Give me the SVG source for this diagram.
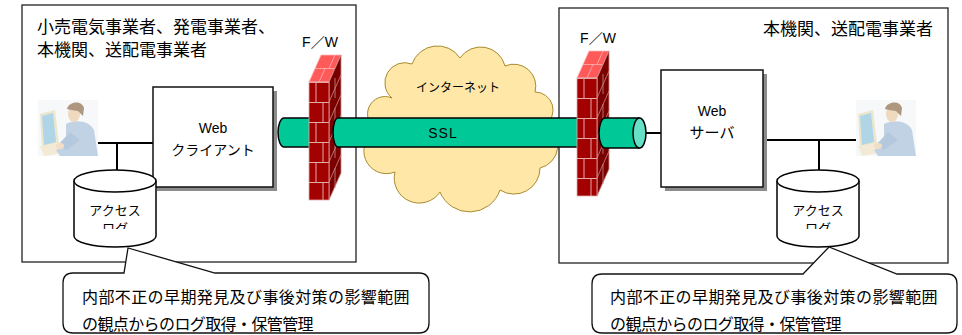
<svg xmlns="http://www.w3.org/2000/svg" xmlns:xlink="http://www.w3.org/1999/xlink" width="962" height="335" viewBox="0 0 962 335">
  <style>
    .jp { font-family: "Liberation Sans", "Noto Sans CJK JP", sans-serif; fill: #000; }
    .site { fill: #fff; stroke: #222; stroke-width: 1.3; }
    .shadow { fill: #8c8c8c; }
    .box { fill: #fff; stroke: #111; stroke-width: 1.5; }
    .wire { stroke: #000; stroke-width: 2; fill: none; }
    .db { fill: #fff; stroke: #000; stroke-width: 1.5; }
    .tube { fill: #00c896; stroke: #000; stroke-width: 1.5; }
    .cap { fill: #66e0c6; stroke: #000; stroke-width: 1.5; }
    .note { fill: #fff; stroke: #111; stroke-width: 1.3; }
    .cloud { fill: #ffe7a8; stroke: #a88a30; stroke-width: 1; }
  </style>
  <defs>
    <!-- brick courses for the firewall front face -->
    <pattern id="brickFront" patternUnits="userSpaceOnUse" x="0" y="27" width="20" height="40">
      <rect width="20" height="40" fill="#a30000"/>
      <path d="M0 0.5H20M0 20.5H20M7 0V20M14 20V40" stroke="#e2aaaa" stroke-width="1" fill="none"/>
    </pattern>
    <clipPath id="dbTextL"><rect x="74" y="190" width="82" height="39"/></clipPath>
    <clipPath id="dbTextR"><rect x="777" y="190" width="82" height="39"/></clipPath>
    <!-- firewall: front face, lit top and shaded side -->
    <g id="wall">
      <polygon points="0,27 20,27 32,0 12,0" fill="#ff5a5a" stroke="#ffb4b4" stroke-width="0.8"/>
      <path d="M6,13.5H26M10,27L16,13.5M20,13.5L26,0" stroke="#ffb4b4" stroke-width="0.8" fill="none"/>
      <polygon points="20,27 32,0 32,118 20,145" fill="#7a0000" stroke="#c88a8a" stroke-width="0.8"/>
      <path d="M20,47L32,20M20,67L32,40M20,87L32,60M20,107L32,80M20,127L32,100M26,23V43M26,53V73M26,83V103M26,113V133" stroke="#c88a8a" stroke-width="0.8" fill="none"/>
      <rect x="0" y="27" width="20" height="118" fill="url(#brickFront)" stroke="#e2aaaa" stroke-width="0.8"/>
    </g>
    <!-- user seated at a terminal, in soft pastel tones -->
    <g id="user" opacity="0.8">
      <rect x="0" y="0" width="60" height="56" fill="#f4f7fa"/>
      <polygon points="2,14 17,10 21,44 4,48" fill="#e8e0c0"/>
      <polygon points="4,16 15,13 18,42 6,45" fill="#9ccbe2"/>
      <polygon points="2,46 26,42 30,52 6,56" fill="#efe6ca"/>
      <path d="M28,24 C38,19 52,21 56,30 L60,56 L22,56 L18,50 L28,46 Z" fill="#b2c8de"/>
      <path d="M32,32 L20,45 L28,50 L42,40 Z" fill="#a2bcd6"/>
      <ellipse cx="22" cy="46" rx="4" ry="3" fill="#efd6b8"/>
      <ellipse cx="36" cy="14" rx="6" ry="8" fill="#ecd0b0"/>
      <path d="M29,9 C31,1 44,0 46,8 L45,16 L40,11 L33,10 Z" fill="#9a7c60"/>
    </g>
  </defs>

  <!-- sites -->
  <g id="site-left">
    <rect class="site" x="22" y="5" width="334" height="257"/>
    <text class="jp" x="37" y="33" font-size="17">小売電気事業者、発電事業者、</text>
    <text class="jp" x="37" y="56" font-size="17">本機関、送配電事業者</text>
  </g>
  <g id="site-right">
    <rect class="site" x="559" y="8" width="389" height="255"/>
    <text class="jp" x="933" y="35" font-size="17" text-anchor="end">本機関、送配電事業者</text>
  </g>

  <!-- connectors -->
  <g id="connectors">
    <path class="wire" d="M98,143H153M117,143V170"/>
    <path class="wire" d="M763,140H856M819,140V171"/>
    <path class="wire" d="M646,133H661"/>
  </g>

  <g id="web-client">
    <rect class="shadow" x="157" y="91" width="120" height="100"/>
    <rect class="box" x="153" y="87" width="120" height="100"/>
    <text class="jp" x="213" y="133" font-size="14" text-anchor="middle">Web</text>
    <text class="jp" x="213" y="155" font-size="14" text-anchor="middle">クライアント</text>
  </g>

  <g id="web-server">
    <rect class="shadow" x="665" y="74" width="102" height="117"/>
    <rect class="box" x="661" y="70" width="102" height="117"/>
    <text class="jp" x="712" y="116" font-size="14" text-anchor="middle">Web</text>
    <text class="jp" x="712" y="138" font-size="15" text-anchor="middle">サーバ</text>
  </g>

  <g id="user-left"><use xlink:href="#user" href="#user" x="38" y="100"/></g>
  <g id="user-right"><use xlink:href="#user" href="#user" x="856" y="100"/></g>

  <g id="log-left">
    <path class="db" d="M74,181V236A41,11 0 0 0 156,236V181"/>
    <ellipse class="db" cx="115" cy="181" rx="41" ry="11"/>
    <g clip-path="url(#dbTextL)">
      <text class="jp" x="115" y="215" font-size="13" text-anchor="middle">アクセス</text>
      <text class="jp" x="115" y="233" font-size="13" text-anchor="middle">ログ</text>
    </g>
  </g>
  <g id="log-right">
    <path class="db" d="M777,181V236A41,11 0 0 0 859,236V181"/>
    <ellipse class="db" cx="818" cy="181" rx="41" ry="11"/>
    <g clip-path="url(#dbTextR)">
      <text class="jp" x="818" y="215" font-size="13" text-anchor="middle">アクセス</text>
      <text class="jp" x="818" y="233" font-size="13" text-anchor="middle">ログ</text>
    </g>
  </g>

  <!-- tunnel stub inside the left site -->
  <g id="tube-left">
    <path class="tube" d="M315,118H284A6,14.5 0 0 0 284,147H315"/>
  </g>

  <g id="firewall-left">
    <use xlink:href="#wall" href="#wall" x="309" y="55"/>
    <text class="jp" x="320" y="47" font-size="14" text-anchor="middle">F／W</text>
  </g>

  <g id="internet">
    <path class="cloud" d="M378,130 A17,17 0 0 1 392,98 A20,20 0 0 1 412,64 A27,27 0 0 1 460,58 A25,25 0 0 1 505,66 A22,22 0 0 1 535,92 A18,18 0 0 1 545,125 A23,23 0 0 1 540,168 A26,26 0 0 1 500,190 A32,32 0 0 1 440,192 A25,25 0 0 1 395,172 A22,22 0 0 1 378,130 Z"/>
    <text class="jp" x="458" y="92" font-size="12" text-anchor="middle">インターネット</text>
  </g>

  <!-- SSL tunnel across the internet -->
  <g id="ssl-tunnel">
    <path class="tube" d="M592,118H338A5,14.5 0 0 0 338,147H592"/>
    <text class="jp" x="443" y="138" font-size="14" text-anchor="middle" letter-spacing="1">SSL</text>
  </g>

  <g id="firewall-right">
    <use xlink:href="#wall" href="#wall" x="577" y="51"/>
    <text class="jp" x="598" y="43" font-size="14" text-anchor="middle">F／W</text>
  </g>

  <g id="tube-right">
    <path class="tube" d="M639,118H605A6,15 0 0 0 605,148H639Z"/>
    <ellipse class="cap" cx="639.5" cy="133" rx="6.5" ry="15"/>
  </g>

  <!-- callouts -->
  <g id="note-left">
    <path class="note" d="M73,273H124L128,248L215,273H419Q429,273 429,283V323Q429,333 419,333H73Q63,333 63,323V283Q63,273 73,273Z"/>
    <text class="jp" x="82" y="303" font-size="16" letter-spacing="0.4">内部不正の早期発見及び事後対策の影響範囲</text>
    <text class="jp" x="82" y="330" font-size="16" letter-spacing="-0.6">の観点からのログ取得・保管管理</text>
  </g>
  <g id="note-right">
    <path class="note" d="M602,274H803L829,247L897,274H947Q957,274 957,284V323Q957,333 947,333H602Q592,333 592,323V284Q592,274 602,274Z"/>
    <text class="jp" x="610" y="303" font-size="16" letter-spacing="0.4">内部不正の早期発見及び事後対策の影響範囲</text>
    <text class="jp" x="610" y="330" font-size="16" letter-spacing="-0.6">の観点からのログ取得・保管管理</text>
  </g>
</svg>
